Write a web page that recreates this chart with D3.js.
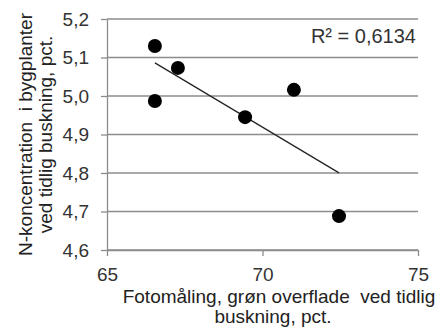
<!DOCTYPE html>
<html>
<head>
<meta charset="utf-8">
<script src="https://cdn.jsdelivr.net/npm/d3@7"></script>
<style>
    html, body { margin: 0; padding: 0; background: #fff; }
    svg { display: block; font-family: "Liberation Sans", Arial, sans-serif; }
</style>
</head>
<body>
<div id="chart"></div>
<script>
// values
const photoCover = [66.54, 66.54, 67.28, 69.44, 71.01, 72.46];
const nConcentration = [5.13, 4.987, 5.073, 4.945, 5.016, 4.688];
const xTicks = [65, 70, 75];
const yTicks = [4.6, 4.7, 4.8, 4.9, 5.0, 5.1, 5.2];
const r2Label = 'R² = 0,6134';
const yTitle = ['N-koncentration\u00a0 i bygplanter', 'ved tidlig buskning, pct.'];
const xTitle = ['Fotomåling, grøn overflade\u00a0 ved tidlig', 'buskning, pct.'];

const width = 440, height = 330;
const margin = { top: 19, right: 22, bottom: 80, left: 107 };
const innerW = width - margin.left - margin.right;
const innerH = height - margin.top - margin.bottom;
const fontSize = '19px';

const locale = d3.formatLocale({ decimal: ',', thousands: '.', grouping: [3], currency: ['', ' kr'] });
const fmt = locale.format('.1f');

const svg = d3.select('#chart').append('svg')
    .attr('width', width)
    .attr('height', height);

const g = svg.append('g')
    .attr('transform', `translate(${margin.left},${margin.top})`);

const x = d3.scaleLinear().domain([65, 75]).range([0, innerW]);
const y = d3.scaleLinear().domain([4.6, 5.2]).range([innerH, 0]);

// horizontal gridlines
g.append('g')
    .selectAll('line')
    .data(yTicks)
    .join('line')
    .attr('x1', 0).attr('x2', innerW)
    .attr('y1', d => y(d)).attr('y2', d => y(d))
    .attr('stroke', '#8c8c8c')
    .attr('stroke-width', 1.3);

// axes
const yAxis = g.append('g')
    .call(d3.axisLeft(y).tickValues(yTicks).tickFormat(fmt).tickSize(6).tickSizeOuter(0).tickPadding(12));
const xAxis = g.append('g')
    .attr('transform', `translate(0,${innerH})`)
    .call(d3.axisBottom(x).tickValues(xTicks).tickSize(6).tickSizeOuter(0).tickPadding(12));

[yAxis, xAxis].forEach(ax => {
    ax.select('.domain').attr('stroke', '#8c8c8c').attr('stroke-width', 1.3);
    ax.selectAll('.tick line').attr('stroke', '#8c8c8c').attr('stroke-width', 1.3);
    ax.selectAll('text').attr('fill', '#333').style('font-size', fontSize)
        .style('font-family', '"Liberation Sans", Arial, sans-serif');
});

// least squares trendline
const mx = d3.mean(photoCover), my = d3.mean(nConcentration);
const sxy = d3.sum(photoCover, (v, i) => (v - mx) * (nConcentration[i] - my));
const sxx = d3.sum(photoCover, v => (v - mx) ** 2);
const slope = sxy / sxx;
const intercept = my - slope * mx;
const [xMin, xMax] = d3.extent(photoCover);

g.append('line')
    .attr('x1', x(xMin)).attr('y1', y(intercept + slope * xMin))
    .attr('x2', x(xMax)).attr('y2', y(intercept + slope * xMax))
    .attr('stroke', '#222')
    .attr('stroke-width', 1.2);

// points
g.append('g')
    .selectAll('circle')
    .data(photoCover.map((v, i) => [v, nConcentration[i]]))
    .join('circle')
    .attr('cx', d => x(d[0]))
    .attr('cy', d => y(d[1]))
    .attr('r', 7)
    .attr('fill', '#000');

// R² label
g.append('text')
    .attr('x', innerW - 2)
    .attr('y', 24)
    .attr('text-anchor', 'end')
    .attr('fill', '#333')
    .style('font-size', '20px')
    .text(r2Label);

// axis titles
const yt = svg.append('text')
    .attr('transform', `translate(0,${margin.top + innerH / 2}) rotate(-90)`)
    .attr('text-anchor', 'middle')
    .attr('fill', '#222')
    .style('font-size', fontSize);
yt.selectAll('tspan')
    .data(yTitle)
    .join('tspan')
    .attr('x', 0)
    .attr('y', (d, i) => 32 + i * 20)
    .text(d => d);

const xt = svg.append('text')
    .attr('text-anchor', 'middle')
    .attr('fill', '#222')
    .style('font-size', fontSize);
xt.selectAll('tspan')
    .data(xTitle)
    .join('tspan')
    .attr('x', (d, i) => i === 0 ? 279 : 273)
    .attr('y', (d, i) => 303 + i * 20)
    .text(d => d);
</script>
</body>
</html>
